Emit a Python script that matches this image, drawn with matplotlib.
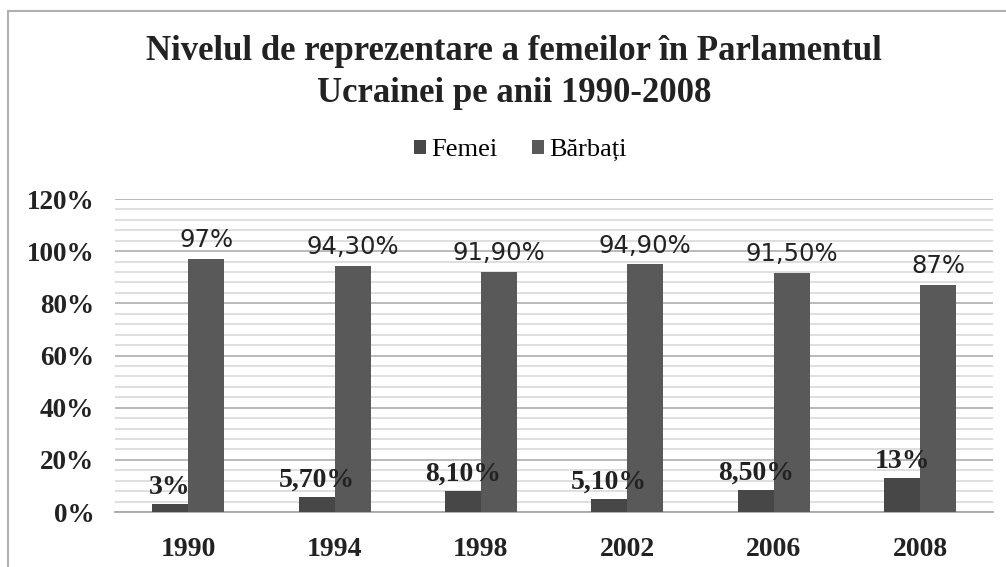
import numpy as np
import matplotlib
matplotlib.use("Agg")
import matplotlib.pyplot as plt
from matplotlib.patches import Rectangle

years = ["1990", "1994", "1998", "2002", "2006", "2008"]
femei = [3.0, 5.7, 8.1, 5.1, 8.5, 13.0]
barbati = [97.0, 94.3, 91.9, 94.9, 91.5, 87.0]
femei_labels = ["3%", "5,70%", "8,10%", "5,10%", "8,50%", "13%"]
barbati_labels = ["97%", "94,30%", "91,90%", "94,90%", "91,50%", "87%"]

TITLE = "Nivelul de reprezentare a femeilor în Parlamentul\nUcrainei pe anii 1990-2008"
C_FEM = "#474747"
C_BAR = "#595959"
SERIF = "Liberation Serif"

fig = plt.figure(figsize=(10.06, 5.67), dpi=100)
ax = fig.add_axes([0.1143, 0.097, 0.873, 0.552])

# chart border
fig.patches.append(Rectangle((8 / 1006, -0.01), 1.1, 1 - 11 / 567 + 0.01,
                             transform=fig.transFigure, fill=False,
                             edgecolor="#b0b0b0", lw=1.5))

x = np.arange(len(years))
w = 0.246
ax.bar(x - w / 2, femei, width=w, color=C_FEM, label="Femei", zorder=3)
ax.bar(x + w / 2, barbati, width=w, color=C_BAR, label="Bărbați", zorder=3)

for xi, v, s in zip(x, femei, femei_labels):
    ax.annotate(s, (xi - w / 2, v), xytext=(0, 3), textcoords="offset points",
                ha="center", va="bottom", family=SERIF, fontweight="bold",
                fontsize=20, color="#222222", zorder=4)
for xi, v, s in zip(x, barbati, barbati_labels):
    ax.annotate(s, (xi + w / 2, v), xytext=(0, 5), textcoords="offset points",
                ha="center", va="bottom", family="DejaVu Sans",
                fontsize=17.5, color="#222222", zorder=4)

ax.set_xlim(-0.5, len(years) - 0.5)
ax.set_ylim(0, 120)
ax.set_yticks(np.arange(0, 121, 20))
ax.set_yticks(np.arange(0, 121, 4), minor=True)
ax.set_yticklabels([f"{v}%" for v in range(0, 121, 20)], family=SERIF,
                   fontweight="bold", fontsize=19.5, color="#222222")
ax.set_xticks(x)
ax.set_xticklabels(years, family=SERIF, fontweight="bold", fontsize=20,
                   color="#222222")
ax.tick_params(axis="both", which="both", length=0)
ax.tick_params(axis="y", pad=15)
ax.tick_params(axis="x", pad=18)
ax.grid(axis="y", which="major", color="#b4b4b4", lw=1.3, zorder=0)
ax.grid(axis="y", which="minor", color="#dcdcdc", lw=1.3, zorder=0)
ax.set_axisbelow(True)
for sp in ["top", "right", "left"]:
    ax.spines[sp].set_visible(False)
ax.spines["bottom"].set_color("#a8a8a8")
ax.spines["bottom"].set_linewidth(1.3)

fig.text(0.511, 0.872, TITLE, ha="center", va="center", family=SERIF,
         fontweight="bold", fontsize=25, color="#222222", linespacing=1.38)

fig.legend(loc="center", bbox_to_anchor=(0.517, 0.735), ncol=2, frameon=False,
           prop={"family": SERIF, "size": 19}, handlelength=0.45,
           handleheight=0.45, handletextpad=0.2, columnspacing=1.3)

fig.savefig("out.png", dpi=100)
